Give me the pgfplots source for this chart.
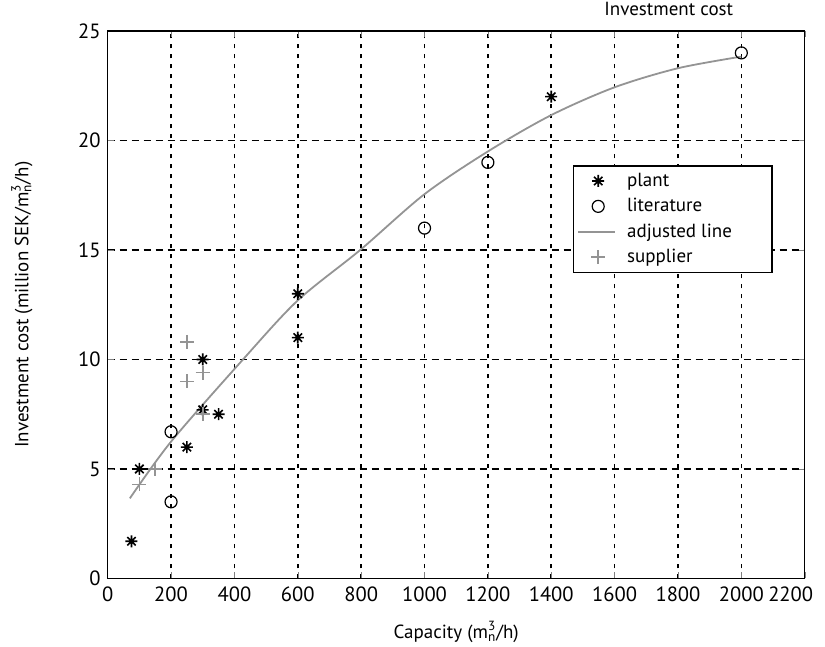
\documentclass[border=0pt]{standalone}
\usepackage{amsmath}
\usepackage{fontspec}
\setmainfont{PT Sans}
\usepackage{pgfplots}
\pgfplotsset{compat=1.18}
\usetikzlibrary{calc}
\definecolor{linegray}{gray}{0.58}

% MATLAB-like '*' marker: plus and cross with a heavy centre
\pgfdeclareplotmark{mstar}{%
  \pgfpathmoveto{\pgfqpoint{0pt}{\pgfplotmarksize}}\pgfpathlineto{\pgfqpoint{0pt}{-\pgfplotmarksize}}%
  \pgfpathmoveto{\pgfqpoint{\pgfplotmarksize}{0pt}}\pgfpathlineto{\pgfqpoint{-\pgfplotmarksize}{0pt}}%
  \pgfpathmoveto{\pgfqpoint{0.7\pgfplotmarksize}{0.7\pgfplotmarksize}}\pgfpathlineto{\pgfqpoint{-0.7\pgfplotmarksize}{-0.7\pgfplotmarksize}}%
  \pgfpathmoveto{\pgfqpoint{0.7\pgfplotmarksize}{-0.7\pgfplotmarksize}}\pgfpathlineto{\pgfqpoint{-0.7\pgfplotmarksize}{0.7\pgfplotmarksize}}%
  \pgfusepathqstroke
  \pgfpathcircle{\pgfpointorigin}{0.4\pgfplotmarksize}\pgfusepathqfill}

\begin{document}
\begin{tikzpicture}
\begin{axis}[name=ax,
  scale only axis, width=348.5pt, height=273.75pt,
  xmin=0, xmax=2200, ymin=0, ymax=25,
  xtick={0,200,...,2000}, ytick={0,5,...,25},
  extra x ticks={2200},
  extra x tick style={grid=none, xticklabel style={xshift=-7pt}},
  /pgf/number format/assume math mode=true,
  /pgf/number format/1000 sep={},
  tick label style={font=\fontsize{10.3}{12}\selectfont},
  label style={font=\fontsize{9.5}{11}\selectfont},
  tick align=inside, major tick length=3pt,
  xticklabel style={yshift=-0.5pt},
  xmajorgrids, ymajorgrids,
  x grid style={black, line width=0.75pt, dash pattern=on 2pt off 3pt},
  y grid style={black, line width=0.75pt, dash pattern=on 3.5pt off 2.5pt},
  axis line style={black, line width=0.7pt},
  xlabel={Capacity (m$^{\text{3}}_{\text{n}}$/h)},
  ylabel={Investment cost (million SEK/m$^{\text{3}}_{\text{n}}$/h)},
  xlabel style={yshift=-3pt},
  ylabel style={yshift=16pt},
  title={Investment cost},
  title style={at={(0.805,1)}, anchor=south, font=\fontsize{9.5}{11}\selectfont, yshift=-2pt},
  legend style={at={(0.667,0.755)}, anchor=north west, draw=black, line width=0.7pt,
    font=\fontsize{9.5}{11}\selectfont, row sep=0.5pt, inner xsep=2pt, inner ysep=1.5pt,
    fill=white},
  legend cell align=left,
]
% plant
\addplot[only marks, mark=mstar, mark size=3pt, black, line width=0.8pt,
  legend image code/.code={\draw[mark=mstar, mark size=3pt, line width=0.8pt] plot coordinates {(10pt,0pt)};
    \path (0pt,0pt) (22pt,0pt);}]
  coordinates {(75,1.7)(100,5.0)(250,6.0)(300,7.7)(350,7.5)(300,10.0)(600,13.0)(600,11.0)(1400,22.0)};
\addlegendentry{plant}
% literature
\addplot[only marks, mark=o, mark size=3pt, black, line width=0.6pt,
  legend image code/.code={\draw[mark=o, mark size=3pt, line width=0.6pt] plot coordinates {(10pt,0pt)};
    \path (0pt,0pt) (22pt,0pt);}]
  coordinates {(200,6.7)(200,3.5)(1000,16.0)(1200,19.0)(2000,24.0)};
\addlegendentry{literature}
% adjusted line
\addplot[linegray, line width=0.9pt, smooth,
  legend image code/.code={\draw[line width=0.9pt] (0pt,0pt) -- (18.5pt,0pt); \path (22pt,0pt);}]
  coordinates {(70,3.66)(200,6.25)(427,10.0)(600,12.7)(797,15.0)(1000,17.55)(1200,19.5)(1400,21.16)(1600,22.43)(1800,23.3)(2000,23.83)};
\addlegendentry{adjusted line\hspace*{16pt}}
% supplier
\addplot[only marks, mark=+, mark size=3.5pt, linegray, line width=0.8pt,
  legend image code/.code={\draw[mark=+, mark size=3.5pt, line width=0.8pt] plot coordinates {(10pt,0pt)};
    \path (0pt,0pt) (22pt,0pt);}]
  coordinates {(100,4.3)(150,5.0)(250,9.0)(250,10.8)(300,9.4)(300,7.5)};
\addlegendentry{supplier}
\end{axis}
\pgfresetboundingbox
\path[use as bounding box] ($(ax.south west)+(-53.85pt,-34.25pt)$) rectangle +(412.5pt,323.5pt);
\end{tikzpicture}
\end{document}
